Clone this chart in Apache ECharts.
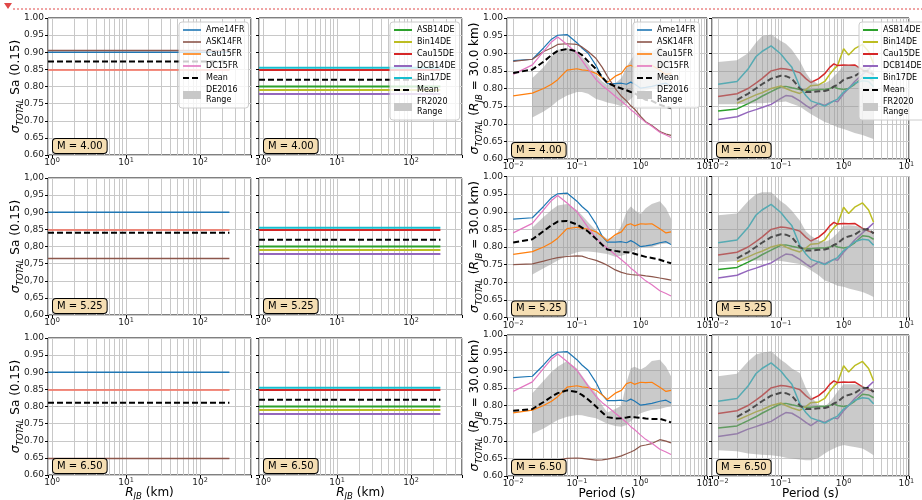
<!DOCTYPE html>
<html>
<head>
<meta charset="utf-8">
<script src="https://cdn.jsdelivr.net/npm/echarts@6.0.0/dist/echarts.min.js"></script>
<style>
  html, body { margin: 0; padding: 0; background: #fff; }
  #chart { width: 922px; height: 500px; }
</style>
</head>
<body>
<div id="chart"></div>
<script>
// ---- data ----
const magnitudes = ["4.00", "5.25", "6.50"];
const distances = [0.88, 250];
const periods = [0.01, 0.02, 0.03, 0.04, 0.05, 0.07, 0.1, 0.12, 0.15, 0.2, 0.25, 0.3,
                 0.4, 0.5, 0.6, 0.7, 0.8, 1.0, 1.2, 1.5, 2.0, 2.5, 3.0];

// sigma of Sa(0.15) vs distance, one value per magnitude (French models)
const ame14frSa = [0.900, 0.900, 0.900];
const ask14frSa = [0.905, 0.765, 0.648];
const cau15frSa = [0.848, 0.848, 0.848];
const dc15frSa = [0.848, 0.848, 0.848];
const meanFrSa = [0.873, 0.840, 0.811];

// German models
const asb14deSa = [0.800, 0.800, 0.800];
const bin14deSa = [0.790, 0.790, 0.790];
const cau15deSa = [0.848, 0.848, 0.848];
const dcb14deSa = [0.778, 0.778, 0.778];
const bin17deSa = [0.855, 0.855, 0.855];
const meanDeSa = [0.820, 0.820, 0.820];

// sigma vs period at R_JB = 30 km (French models)
const ame14frT = [0.879, 0.883, 0.915, 0.940, 0.951, 0.953, 0.930, 0.915, 0.900, 0.865, 0.830, 0.814,
                  0.814, 0.815, 0.812, 0.818, 0.813, 0.801, 0.803, 0.806, 0.812, 0.815, 0.807];
const ask14frT = [
  [0.877, 0.883, 0.905, 0.915, 0.925, 0.927, 0.925, 0.918, 0.905, 0.885, 0.860, 0.835,
   0.800, 0.778, 0.765, 0.751, 0.742, 0.721, 0.706, 0.695, 0.678, 0.671, 0.667],
  [0.750, 0.752, 0.760, 0.766, 0.770, 0.773, 0.775, 0.774, 0.768, 0.762, 0.755, 0.748,
   0.735, 0.728, 0.724, 0.722, 0.721, 0.720, 0.718, 0.716, 0.712, 0.709, 0.706],
  [0.640, 0.640, 0.641, 0.643, 0.645, 0.650, 0.651, 0.650, 0.648, 0.645, 0.646, 0.648,
   0.652, 0.657, 0.663, 0.668, 0.673, 0.685, 0.688, 0.692, 0.703, 0.699, 0.694]
];
const cau15frT = [0.779, 0.787, 0.800, 0.812, 0.825, 0.852, 0.856, 0.853, 0.851, 0.843, 0.830, 0.817,
                  0.835, 0.843, 0.862, 0.866, 0.860, 0.866, 0.865, 0.866, 0.852, 0.840, 0.843];
const dc15frT = [0.840, 0.867, 0.905, 0.932, 0.946, 0.925, 0.900, 0.880, 0.855, 0.825, 0.808, 0.797,
                 0.778, 0.764, 0.752, 0.740, 0.732, 0.716, 0.704, 0.693, 0.676, 0.668, 0.661];
const meanFrT = [
  [0.844, 0.854, 0.876, 0.895, 0.907, 0.912, 0.905, 0.895, 0.877, 0.855, 0.832, 0.816,
   0.806, 0.800, 0.795, 0.790, 0.787, 0.776, 0.768, 0.765, 0.754, 0.748, 0.744],
  [0.813, 0.822, 0.845, 0.862, 0.872, 0.874, 0.864, 0.855, 0.844, 0.823, 0.806, 0.793,
   0.789, 0.786, 0.785, 0.784, 0.781, 0.776, 0.772, 0.769, 0.764, 0.758, 0.754],
  [0.785, 0.790, 0.810, 0.825, 0.835, 0.843, 0.838, 0.830, 0.817, 0.797, 0.780, 0.767,
   0.763, 0.764, 0.766, 0.768, 0.767, 0.765, 0.763, 0.762, 0.762, 0.757, 0.752]
];
const de2016Low = [
  [null, 0.718, 0.735, 0.750, 0.765, 0.780, 0.790, 0.790, 0.785, 0.770, 0.765, 0.760,
   0.755, 0.750, 0.760, 0.770, 0.780, 0.790, 0.795, 0.800, 0.805, 0.805, 0.800],
  [null, 0.722, 0.740, 0.752, 0.762, 0.775, 0.785, 0.787, 0.787, 0.785, 0.782, 0.780,
   0.772, 0.775, 0.780, 0.785, 0.790, 0.800, 0.800, 0.800, 0.808, 0.810, 0.810],
  [null, 0.720, 0.735, 0.748, 0.759, 0.768, 0.773, 0.772, 0.768, 0.764, 0.755, 0.748,
   0.742, 0.740, 0.745, 0.755, 0.765, 0.778, 0.783, 0.788, 0.790, 0.795, 0.797]
];
const de2016High = [
  [null, 0.830, 0.860, 0.890, 0.910, 0.915, 0.905, 0.890, 0.870, 0.840, 0.820, 0.810,
   0.815, 0.830, 0.860, 0.880, 0.895, 0.910, 0.905, 0.905, 0.920, 0.905, 0.890],
  [null, 0.855, 0.885, 0.905, 0.918, 0.922, 0.905, 0.890, 0.870, 0.847, 0.833, 0.823,
   0.830, 0.860, 0.900, 0.915, 0.905, 0.893, 0.910, 0.922, 0.930, 0.910, 0.880],
  [null, 0.835, 0.870, 0.895, 0.910, 0.926, 0.905, 0.885, 0.860, 0.835, 0.800, 0.780,
   0.790, 0.800, 0.865, 0.905, 0.910, 0.902, 0.910, 0.926, 0.930, 0.910, 0.883]
];

// sigma vs period at R_JB = 30 km (German models)
const asb14deT = [0.736, 0.742, 0.757, 0.768, 0.778, 0.791, 0.805, 0.806, 0.802, 0.797, 0.795, 0.795,
                  0.797, 0.797, 0.800, 0.805, 0.800, 0.797, 0.800, 0.812, 0.832, 0.830, 0.822];
const bin14deT = [null, 0.758, 0.772, 0.782, 0.788, 0.800, 0.807, 0.800, 0.793, 0.786, 0.797, 0.808,
                  0.810, 0.820, 0.840, 0.855, 0.865, 0.913, 0.895, 0.913, 0.925, 0.905, 0.870];
const cau15deT = [0.777, 0.785, 0.800, 0.815, 0.828, 0.850, 0.857, 0.855, 0.852, 0.845, 0.828, 0.817,
                  0.828, 0.842, 0.860, 0.870, 0.865, 0.867, 0.866, 0.867, 0.853, 0.845, 0.840];
const dcb14deT = [0.712, 0.720, 0.733, 0.740, 0.746, 0.755, 0.772, 0.780, 0.778, 0.765, 0.752, 0.743,
                  0.758, 0.752, 0.760, 0.765, 0.762, 0.785, 0.800, 0.820, 0.840, 0.855, 0.868];
const bin17deT = [0.812, 0.820, 0.855, 0.890, 0.905, 0.921, 0.898, 0.880, 0.860, 0.805, 0.780, 0.765,
                  0.757, 0.750, 0.758, 0.765, 0.770, 0.790, 0.800, 0.815, 0.822, 0.820, 0.805];
const meanDeT = [null, 0.768, 0.785, 0.800, 0.812, 0.828, 0.836, 0.835, 0.828, 0.800, 0.790, 0.790,
                 0.792, 0.793, 0.797, 0.806, 0.810, 0.825, 0.830, 0.835, 0.850, 0.850, 0.838];
const fr2020Low = [
  [0.755, 0.755, 0.757, 0.758, 0.758, 0.760, 0.762, 0.763, 0.757, 0.749, 0.737, 0.728,
   0.715, 0.705, 0.700, 0.695, 0.690, 0.685, 0.680, 0.674, 0.668, 0.662, 0.657],
  [0.757, 0.760, 0.762, 0.762, 0.762, 0.762, 0.760, 0.758, 0.755, 0.752, 0.743, 0.734,
   0.720, 0.705, 0.700, 0.695, 0.690, 0.687, 0.682, 0.678, 0.672, 0.665, 0.658],
  [0.673, 0.670, 0.664, 0.662, 0.660, 0.659, 0.655, 0.652, 0.650, 0.647, 0.645, 0.645,
   0.652, 0.664, 0.672, 0.678, 0.683, 0.688, 0.685, 0.682, 0.678, 0.668, 0.659]
];
const fr2020High = [
  [0.875, 0.880, 0.900, 0.930, 0.948, 0.953, 0.935, 0.927, 0.910, 0.878, 0.845, 0.825,
   0.812, 0.815, 0.822, 0.835, 0.845, 0.865, 0.866, 0.864, 0.862, 0.858, 0.850],
  [0.890, 0.895, 0.930, 0.950, 0.955, 0.955, 0.930, 0.920, 0.903, 0.875, 0.845, 0.832,
   0.818, 0.815, 0.820, 0.830, 0.840, 0.860, 0.862, 0.860, 0.855, 0.850, 0.845],
  [0.883, 0.890, 0.925, 0.945, 0.950, 0.954, 0.930, 0.920, 0.905, 0.892, 0.850, 0.826,
   0.800, 0.797, 0.810, 0.825, 0.840, 0.860, 0.860, 0.860, 0.855, 0.850, 0.845]
];

// ---- styling / layout ----
const FONT = "DejaVu Sans";
const GRIDC = "#c8c8c8";
const BAND = "rgba(150,150,150,0.5)";
const frModels = [
  { name: "Ame14FR", color: "#1f77b4", sa: ame14frSa, t: r => ame14frT },
  { name: "ASK14FR", color: "#8c564b", sa: ask14frSa, t: r => ask14frT[r] },
  { name: "Cau15FR", color: "#ff7f0e", sa: cau15frSa, t: r => cau15frT },
  { name: "DC15FR", color: "#e377c2", sa: dc15frSa, t: r => dc15frT, saOpacity: 0.6 }
];
const deModels = [
  { name: "ASB14DE", color: "#2ca02c", sa: asb14deSa, t: asb14deT },
  { name: "Bin14DE", color: "#bcbd22", sa: bin14deSa, t: bin14deT },
  { name: "Cau15DE", color: "#d62728", sa: cau15deSa, t: cau15deT },
  { name: "DCB14DE", color: "#9467bd", sa: dcb14deSa, t: dcb14deT },
  { name: "Bin17DE", color: "#17becf", sa: bin17deSa, t: bin17deT }
];

const colLeft = [48, 259, 507, 712];
const colWidth = [203, 203, 200, 197];
const rowTop = [[18, 178, 338], [18, 176.5, 335]];
const rowH = [137, 141];

function pairs(xs, ys) { return xs.map((x, k) => [x, ys[k]]); }

function minorTicks(lo, hi) {
  const out = [];
  for (let e = Math.floor(Math.log10(lo)); e <= Math.ceil(Math.log10(hi)); e++) {
    for (let k = 2; k <= 9; k++) {
      const v = +(k * Math.pow(10, e)).toPrecision(3);
      if (v > lo && v < hi) out.push(v);
    }
  }
  return out;
}

function powLabel(v) {
  const e = Math.log10(v);
  const r = Math.round(e);
  if (Math.abs(e - r) > 1e-6) return "";
  return "10{s|" + (r < 0 ? "\u2212" + (-r) : r) + "}";
}

function line(name, data, i, color, width, z, dash, opacity) {
  return {
    type: "line", name: name, xAxisIndex: i, yAxisIndex: i, data: data,
    symbol: "none", z: z, silent: true,
    lineStyle: { color: color, width: width, type: dash || "solid", opacity: opacity == null ? 1 : opacity },
    itemStyle: { color: color }
  };
}

// grey range band drawn as one polygon through the axes' own coordinate mapping
function band(name, lo, hi, i, z) {
  const idx = periods.map((t, k) => k).filter(k => lo[k] != null && hi[k] != null);
  return {
    type: "custom", name: name, coordinateSystem: "cartesian2d", xAxisIndex: i, yAxisIndex: i,
    z: z, silent: true, clip: true,
    data: idx.map(k => [periods[k], lo[k], hi[k]]),
    encode: { x: 0, y: [1, 2] },
    itemStyle: { color: "#c8c8c8" },
    renderItem: function (params, api) {
      if (params.dataIndex !== 0) return null;
      const top = idx.map(k => api.coord([periods[k], hi[k]]));
      const bottom = idx.slice().reverse().map(k => api.coord([periods[k], lo[k]]));
      return { type: "polygon", shape: { points: top.concat(bottom) }, style: { fill: BAND } };
    }
  };
}

const grids = [], xAxes = [], yAxes = [], series = [], graphics = [];
const sigName = "{it|\u03c3}{sub|TOTAL} ";

for (let r = 0; r < 3; r++) {
  for (let c = 0; c < 4; c++) {
    const i = grids.length;
    const half = c < 2 ? 0 : 1;
    const top = rowTop[half][r];
    const h = rowH[half];
    const isDist = c < 2;
    const xmin = isDist ? 0.88 : 0.008;
    const xmax = isDist ? 490 : 11;

    grids.push({
      left: colLeft[c], top: top, width: colWidth[c], height: h,
      show: true, borderColor: "#000", borderWidth: 1, backgroundColor: "transparent",
      containLabel: false, outerBoundsMode: "none"
    });

    xAxes.push({
      type: "log", logBase: 10, gridIndex: i, min: xmin, max: xmax,
      axisLine: { show: false },
      axisTick: { show: true, length: 3, lineStyle: { color: "#000" } },
      axisLabel: {
        show: true, margin: 2, fontSize: 9, fontFamily: FONT, color: "#222",
        lineHeight: 12, formatter: powLabel,
        rich: { s: { fontSize: 6.5, fontFamily: FONT, color: "#222", verticalAlign: "top", lineHeight: 5 } }
      },
      splitLine: { show: true, lineStyle: { color: GRIDC, width: 1 } },
      name: r === 2 ? (isDist ? "{it|R}{sub|JB} (km)" : "Period (s)") : "",
      nameLocation: "middle", nameGap: 10, nameMoveOverlap: false,
      nameTextStyle: {
        fontSize: 12, fontFamily: FONT, color: "#000", lineHeight: 16,
        rich: {
          it: { fontSize: 12, fontFamily: FONT, fontStyle: "italic", lineHeight: 16 },
          sub: { fontSize: 8.5, fontFamily: FONT, fontStyle: "italic", verticalAlign: "bottom", lineHeight: 11 }
        }
      }
    });

    const showY = c % 2 === 0;
    yAxes.push({
      type: "value", gridIndex: i, min: 0.6, max: 1.0, interval: 0.05,
      axisLine: { show: false },
      axisTick: { show: true, length: 3, lineStyle: { color: "#000" } },
      axisLabel: {
        show: showY, margin: 4, fontSize: 9, fontFamily: FONT, color: "#222",
        formatter: v => {
          const s = v.toFixed(2);
          return (r === 1 && c === 0) ? s.replace(".", ",") : s;
        }
      },
      splitLine: { show: true, lineStyle: { color: GRIDC, width: 1 } },
      name: showY ? (c === 0 ? sigName + "Sa (0.15)" : sigName + "({it|R}{sub|JB} = 30.0 km)") : "",
      nameLocation: "middle", nameGap: 23, nameMoveOverlap: false,
      nameTextStyle: {
        fontSize: 12, fontFamily: FONT, color: "#000", lineHeight: 18,
        rich: {
          it: { fontSize: 12.5, fontFamily: FONT, fontStyle: "italic", lineHeight: 18 },
          sub: { fontSize: 8.5, fontFamily: FONT, fontStyle: "italic", verticalAlign: "bottom", lineHeight: 12 }
        }
      }
    });

    // minor log gridlines, kept underneath the data
    series.push({
      type: "line", name: "_minor" + i, xAxisIndex: i, yAxisIndex: i, data: [], silent: true, z: 1,
      markLine: {
        silent: true, symbol: "none", label: { show: false }, animation: false, z: 1,
        lineStyle: { color: GRIDC, width: 1, type: "solid" },
        data: minorTicks(xmin, xmax).map(v => ({ xAxis: v }))
      }
    });

    if (c === 0) {
      frModels.forEach(m => series.push(line(m.name, pairs(distances, [m.sa[r], m.sa[r]]), i, m.color, 1.6, 3, null, m.saOpacity)));
      series.push(line("Mean", pairs(distances, [meanFrSa[r], meanFrSa[r]]), i, "#000", 2, 4, [6, 3]));
    } else if (c === 1) {
      deModels.forEach(m => series.push(line(m.name, pairs(distances, [m.sa[r], m.sa[r]]), i, m.color, 2, 3)));
      series.push(line("Mean", pairs(distances, [meanDeSa[r], meanDeSa[r]]), i, "#000", 2, 4, [6, 3]));
    } else if (c === 2) {
      series.push(band("DE2016\nRange", de2016Low[r], de2016High[r], i, 2));
      frModels.forEach(m => series.push(line(m.name, pairs(periods, m.t(r)), i, m.color, 1.2, 3)));
      series.push(line("Mean", pairs(periods, meanFrT[r]), i, "#000", 2, 4, [6, 3]));
    } else {
      deModels.forEach(m => series.push(line(m.name, pairs(periods, m.t), i, m.color, 1.5, 3)));
      series.push(line("Mean", pairs(periods, meanDeT), i, "#000", 2, 3, [6, 3]));
      series.push(band("FR2020\nRange", fr2020Low[r], fr2020High[r], i, 5));
    }

    // magnitude annotation box
    graphics.push({
      type: "text", left: colLeft[c] + 4, top: top + h - 17, z: 50,
      style: {
        text: "M = " + magnitudes[r], font: "10px \"DejaVu Sans\"", fill: "#000",
        backgroundColor: "#f5deb3", borderColor: "#000", borderWidth: 1, borderRadius: 3,
        padding: [1, 4, 1, 4], lineHeight: 12
      }
    });
  }
}

// page-break style marker along the top
graphics.push({ type: "line", shape: { x1: 13, y1: 9, x2: 922, y2: 9 }, z: 50,
  style: { stroke: "#e04848", lineWidth: 1, lineDash: [2, 2] } });
graphics.push({ type: "polygon", shape: { points: [[4, 3], [12, 3], [8, 9]] }, z: 50,
  style: { fill: "#e04848" } });

const legendBase = {
  orient: "vertical", selectedMode: false, top: 22,
  padding: [3, 4, 3, 3], itemGap: 2, itemWidth: 18, itemHeight: 8,
  backgroundColor: "rgba(255,255,255,0.8)", borderColor: "#cccccc", borderWidth: 1, borderRadius: 3,
  textStyle: { fontSize: 8, fontFamily: FONT, color: "#000", lineHeight: 10 },
  itemStyle: { opacity: 0 }, lineStyle: { width: "inherit", opacity: 1 }, z: 10
};
const bandItem = name => ({ name: name, icon: "rect", itemStyle: { color: "#c8c8c8", opacity: 1, borderWidth: 0 } });
const frNames = frModels.map(m => m.name).concat(["Mean"]);
const deNames = deModels.map(m => m.name).concat(["Mean"]);

const option = {
  animation: false,
  backgroundColor: "#fff",
  grid: grids,
  xAxis: xAxes,
  yAxis: yAxes,
  legend: [
    Object.assign({}, legendBase, { left: 179, data: frNames.concat([bandItem("DE2016\nRange")]) }),
    Object.assign({}, legendBase, { left: 390, data: deNames.concat([bandItem("FR2020\nRange")]) }),
    Object.assign({}, legendBase, { left: 633, itemWidth: 15, data: frNames.concat([bandItem("DE2016\nRange")]) }),
    Object.assign({}, legendBase, { left: 859, itemWidth: 15, data: deNames.concat([bandItem("FR2020\nRange")]) })
  ],
  graphic: graphics,
  series: series
};

const chart = echarts.init(document.getElementById("chart"), null, { renderer: "canvas" });
chart.setOption(option);
</script>
</body>
</html>
